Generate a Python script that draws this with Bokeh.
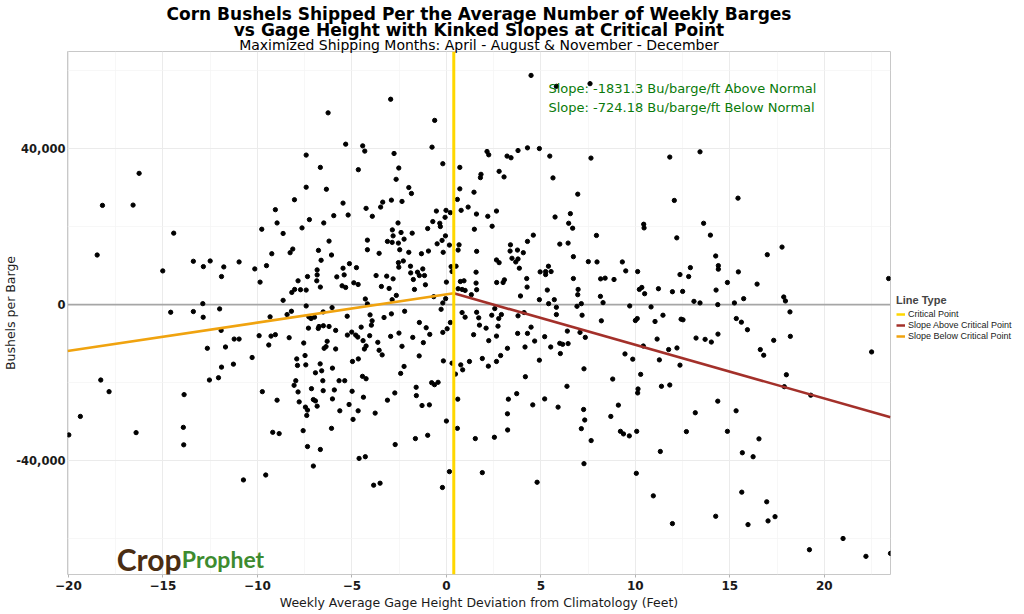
import math
from bokeh.plotting import figure
from bokeh.layouts import row
from bokeh.models import (Range1d, FixedTicker, NumeralTickFormatter, Span, Label,
                          Legend, LegendItem, Title)
from bokeh.embed import file_html
from bokeh.resources import INLINE

# ---------------- data ----------------
gage_dev = [
    -6.26, -7.42, -6.67, -16.26, -7.42, -6.35, -8.04, -18.2, -16.58, -9.05,
    -8.96, -7.25, -6.49, -5.96,
    4.48, 7.6, 5.82, -2.95, -0.62, -5.33, -4.43, -4.32, -0.76, -2.77,
    2.15, 2.24, 3.21, 3.42, 3.79, 4.29, 4.92, 5.47, 7.65, -0.19,
    -4.66, -2.52, 0.71, -2.66, 1.83, 1.8, 2.79, 3.05, 5.64, -1.99,
    -1.85, 0.71, 1.46, 6.95, -5.47, -2.91, -2.35, -3.37, 0.58, -3.48,
    -4.25, -5.2, -3.92, -0.53, -0.02, 0.21, 0.78, 1.15, -0.07, 1.59,
    2.19, 2.65, 5.75, 6.56, -2.56, -0.72, -0.35, 6.47,
    11.82, 13.42, 12.06, 15.43, 13.61, 10.44,
    -18.48, -14.43, -15.01, -13.39, -12.86, -12.5, -11.78, -11.9, -10.97, -10.14,
    -9.77, -8.64, -7.64, -9.86, -9.52, -9.24, -8.27, -8.13, -6.21, -6.77,
    -6.08, -6.63, -6.84, -6.84, -7.35, -6.86, -7.85, -8.03, -7.72, -7.42,
    -8.18, -6.67, -5.8, -8.64, -12.89, -14.59, -13.39, -12.87, -12.0, -11.92,
    -9.33, -8.43, -8.2, -7.42, -6.52, -6.05, -7.28, -7.16, -6.98, -7.3,
    -6.74, -6.78, -6.51, -6.21, -5.86, -9.91, -9.28, -9.05, -8.32, -11.23,
    -10.97, -11.69, -12.65, -9.4, -7.55, -6.31, -6.37, -6.47, -5.86, -10.28,
    -7.92, -7.48, -7.88, -7.44, -6.68, -6.6, -6.93, -6.03, -11.27, -11.9,
    -12.06, -12.54, -18.29, -17.85, -13.88, -9.74, -7.97, -8.06, -7.85, -7.14,
    -6.54, -6.52, -5.93, -5.68,
    -19.37, -19.98, -16.42, -13.92, -13.9, -8.96, -7.79, -7.46, -7.35, -7.39,
    -7.04, -6.93, -6.84, -6.03, -5.64, -9.19, -8.85, -7.58, -6.08, -7.35,
    -6.67, -7.04, -10.74, -9.56,
    -5.15, -4.94, -4.67, -4.39, -3.77, -3.12, -2.73, -1.59, -1.29, -0.9,
    -2.71, -1.64, -0.99, 0.0, 0.6, 0.58, -4.62, -4.29, -3.85, -3.51,
    -0.21, 0.16, 1.53, 1.9, 2.54, 3.24, 3.23, 3.28, 3.72, 4.57,
    5.2, 5.91, 4.8, 7.26, 7.32, 7.14, 7.66, 7.28, 8.7,
    10.12, 9.1, 9.21, 9.37, 9.68, 10.07, 10.05, 11.32, 10.95, 11.96,
    12.7, 13.17, 14.36, 14.25, 14.87, 15.33, 15.66, 16.23, 16.54, 15.63,
    15.96, 16.95, 17.02, 17.39, 19.28, 19.21, 20.99, 22.2, 23.5,
    10.46, 12.19, 13.97, 9.31, 9.49, 10.12, 8.87, 10.21, 10.34, 10.49,
    11.22, 11.96, 12.5, 12.36, 12.82, 12.91, 14.25, 14.39, 14.39, 14.27,
    14.87, 15.45, 15.73, 15.24, 13.1, 13.42, 16.44, 16.98, 17.76, 17.85,
    17.94, 18.18, 18.2, 23.4, 9.7, 10.83, 11.46, 10.0, 10.1, 11.04,
    12.42, 12.52, 14.36, 15.34, 15.61, 15.93, 14.37, 13.21, 13.69, 14.02,
    11.15, 10.42, 9.45, 9.86, 11.76, 12.2, 11.27, 12.36, 10.28, 8.8,
    10.14, 11.38, 11.82, 16.61, 16.79, 17.32, 17.99, 17.88, 22.5,
    -0.32, -2.86, -2.82, -2.4, -1.81, -0.99, -0.05, -0.49, -0.23, -4.18,
    -3.12, -2.87, -2.54, -2.24, -4.18, -3.56, -2.47, -1.99, -1.32, -0.95,
    -0.17, 0.16, 0.67, 0.62, 1.48, 2.42, 1.6, 3.39, 3.76, 3.37,
    4.07, 4.29, 4.6, 3.47, 3.67, 3.79, 3.86, 2.65, 2.79, 6.0,
    6.68, 6.44, 6.72, 7.94, 7.51, 7.97, 4.96, 5.25, 5.4, 5.54,
    5.25, 4.25, 4.27, 3.92, 4.92, 5.34, 5.71, 5.41, 5.82, 6.72,
    6.97, 6.95, 7.14, 6.91, 7.18, 5.82, 8.16, 8.4, 8.15, 8.29,
    8.2, 1.57, 1.57, 0.93, 0.74, 0.51, 0.25, 0.3, 0.0, 0.62,
    0.83, 0.99, 1.32, 1.6, 2.66, 3.0, 3.07, -0.67, -0.19, -0.04,
    -0.28, -5.47, -5.13, -5.41, -4.76, -5.52, -5.33, -4.9, -4.67, -3.72,
    -3.16, -2.82, -3.44, -3.03, -2.65, -2.52, -2.54, -2.28, -1.9, -1.89,
    -1.53, -1.25, -1.16, -1.43, -1.75, -1.69, -1.11, -4.29, -4.18, -2.87,
    -5.25, -4.04, -3.93, -3.97, -3.3, -2.91, -2.21, -1.43, -1.07, -0.88,
    -0.19, 0.04, 0.21, -5.01, -4.8, -4.69, -4.51, -4.41, -4.06, -5.24,
    -4.25, -4.34, -3.63, -3.56, -3.4, -2.95, -2.51, -1.78, -1.22, -2.35,
    -1.44, -2.24, -2.42, -4.66, -4.97, -4.44, -4.25, -5.38, -4.99, -1.6,
    -0.78, -0.63, -0.44, -0.16, 0.3, 0.48, 0.76, 0.86, 1.22, 1.9,
    2.22, 2.65, 2.87, 0.83, 0.99, 1.6, 1.71, 1.75, 1.44, 2.1,
    2.4, 2.56, 2.77, 2.73, 2.65, 2.24, 2.91, 3.23, 3.79, 4.11,
    3.77, 4.29, 4.48, 4.67, 4.16, 5.2, 5.52, 4.92, 6.0, 6.15,
    6.44, 6.03, 6.4, 7.07, 7.35, 7.28, 4.18, 6.38,
]

bushels = [
    49250, 38400, 35240, 33710, 30150, 29630, 26930, 25480, 25560, 24380,
    20970, 21830, 20970, 22850,
    58860, 56740, 56060, 52740, 47310, 41200, 40770, 39420, 40440, 38810,
    39320, 38470, 38140, 37710, 39570, 40260, 40080, 38140, 37630, 36180,
    34650, 35080, 35240, 32180, 33460, 32610, 34220, 32790, 32540, 30070,
    28540, 29730, 28870, 28360, 26070, 26830, 26500, 26320, 27010, 25050,
    24720, 23010, 22680, 24030, 24210, 23620, 24210, 25050, 22420, 23260,
    22680, 24030, 22500, 23360, 20970, 21330, 20890, 20890,
    37890, 39240, 26750, 27340, 20890, 20640,
    12740, 18350, 8660, 11130, 9760, 11210, 9680, 7210, 10960, 9170,
    19360, 18270, 19700, 5780, 10010, 13070, 13330, 14270, 16310, 13930,
    12740, 11390, 8920, 7640, 7210, 6120, 6120, 3900, 3820, 3740,
    3130, 4510, 7130, 1100, 250, -1960, -1780, -3240, -1100, -6620,
    -3130, -2550, -1700, -340, -1870, -760, -3130, -3570, -3230, -6040,
    -5610, -6120, -5430, -5610, -6620, -7980, -8080, -7720, -8490, -8840,
    -8840, -10880, -11210, -10370, -9860, -9430, -10780, -11210, -11390, -13580,
    -13940, -13070, -15620, -15470, -15210, -16990, -17500, -16310, -15290, -16050,
    -18780, -19360, -19360, -22350, -23110, -22350, -19540, -20720, -22420, -21580,
    -19540, -22090, -21910, -19540,
    -28710, -33460, -32870, -31520, -36000, -24540, -24970, -26320, -27090, -28460,
    -24380, -24720, -26070, -24210, -27260, -32790, -33120, -32360, -31770, -36440,
    -37200, -41450, -45020, -43750,
    -25650, -29470, -27260, -23780, -27860, -24540, -22680, -23360, -25910, -25740,
    -35930, -34400, -33550, -29890, -24280, -31770, -39490, -39060, -46370, -45860,
    -46960, -42880, -34400, -43140, -34060, -32190, -28030, -24280, -22860, -25740,
    -24210, -26320, -45610, -26930, -29630, -31850, -34910, -40840, -28710,
    -22680, -25810, -32540, -33200, -33710, -32540, -43320, -37710, -49100, -56230,
    -32610, -27770, -24790, -54350, -32540, -27260, -38040, -39060, -34470, -48160,
    -56490, -50630, -55540, -54450, -23260, -62940, -60060, -64640, -63880,
    19700, 17150, 17840, 10960, 8660, 8490, 6450, 3900, 4410, 2800,
    4080, 3310, 3390, 7720, 7210, 9500, 12490, 10010, 9100, 3740,
    5680, 8410, 1530, 430, 840, 430, 5270, 12820, 14780, 1960,
    940, -1870, -8150, 6700, -340, -590, -2720, -4080, -3570, -4330,
    -3740, -3900, 0, -3570, -4510, -6450, -7570, -8580, -8920, -9610,
    -8840, -10630, -12660, -14010, -11540, -11130, -14190, -15540, -17910, -19110,
    -21660, -20970, -20640, -11540, -12990, -9170, -18010, -21070, -12150,
    20050, 19190, 17660, 18520, 18350, 19540, 17660, 15620, 16490, 16560,
    16230, 15980, 15800, 16820, 14090, 13170, 14090, 13430, 13070, 13760,
    13430, 15290, 15360, 14010, 19360, 20130, 13680, 15360, 14010, 13760,
    13330, 16230, 17840, 11900, 10960, 11720, 9350, 11470, 10780, 15540,
    19620, 15800, 12310, 17760, 11040, 10960, 8410, 8490, 9860, 8490,
    7720, 6700, 4510, 2220, 1270, 3740, 1270, 250, -680, 6700,
    3900, 2550, 250, -430, -2720, -2550, 6620, 6800, 2120, 510,
    -4150, 8330, 5530, 6120, 5940, 9860, 9760, 8490, 5780, 4080,
    3900, 3650, 2550, 3820, 5680, 5680, 6370, 2040, 430, 1530,
    -1200, 9350, 10520, 7640, 9500, 4840, 4410, 5610, 5170, 7470,
    7310, 6620, 4660, 4150, 2370, 9610, 10780, 11210, 9860, 8150,
    8330, 9170, 7470, 7470, 6450, 3900, 5100, 1450, 180, 1270,
    -2980, -2630, -4150, -5270, -3310, -2370, -1700, -4590, -5940, -7640,
    -7130, -6200, -4590, -7050, -7820, -8330, -5780, -9250, -7980, -7820,
    -10630, -11390, -9680, -11720, -12910, -8150, -7310, -8410, -9760, -10700,
    -13170, -15870, -17660, -13940, -14600, -18420, -19030, -19540, -22250, -21220,
    -20050, -20560, -19950, -14450, -15030, -17840, -15470, -16740, -14600, -13840,
    -15800, -14600, -13070, -2040, -3230, -1960, -3390, -5270, -7720, -6040,
    -2720, -1020, -3570, -5530, -8080, -9250, -2550, -11210, -2880, -2040,
    -7390, -7390, -5780, -9350, -10880, -8230, -10880, -14270, -9940, -10190,
    -10010, -12560, -6800, -7130, -8410, -16480, -18520, -20970,
]
assert len(gage_dev) == len(bushels)

critical_x = 0.39          # critical gage deviation (ft)
kink_y = 2900              # fitted bushels/barge at the critical point
below_line_x = [-20.05, critical_x]
below_line_y = [-11900, kink_y]
above_line_x = [critical_x, 23.5]
above_line_y = [kink_y, -28900]

slope_labels = ["Slope: -1831.3 Bu/barge/ft Above Normal",
                "Slope: -724.18 Bu/barge/ft Below Normal"]
slope_label_y = [55550, 50700]
legend_labels = ["Critical Point", "Slope Above Critical Point",
                 "Slope Below Critical Point"]
x_ticks = [-20, -15, -10, -5, 0, 5, 10, 15, 20]
x_minor = [-17.5, -12.5, -7.5, -2.5, 2.5, 7.5, 12.5, 17.5, 22.5]
y_ticks = [-40000, 0, 40000]
y_minor = [-60000, -20000, 20000, 60000]

title_1 = "Corn Bushels Shipped Per the Average Number of Weekly Barges"
title_2 = "vs Gage Height with Kinked Slopes at Critical Point"
subtitle = "Maximized Shipping Months: April - August & November - December"
x_label = "Weekly Average Gage Height Deviation from Climatology (Feet)"
y_label = "Bushels per Barge"

GOLD = "#FFD700"
RED = "#A3302A"
ORANGE = "#F0A30F"

H = 612
MAIN_W = 895
LEG_W = 125

# ---------------- main figure ----------------
p = figure(width=MAIN_W, height=H, title=None,
           x_range=Range1d(-20.05, 23.5), y_range=Range1d(-69300, 65000),
           output_backend="svg", toolbar_location=None,
           min_border_left=67, min_border_right=5,
           min_border_top=51, min_border_bottom=34)
p.background_fill_color = "white"
p.border_fill_color = "white"
p.outline_line_color = "#C8C8C8"
p.outline_line_width = 1

# titles: added from the frame outward
for txt, size, style, so in [(subtitle, "14px", "normal", -3),
                             (title_2, "17px", "bold", -7),
                             (title_1, "17px", "bold", -4)]:
    p.add_layout(Title(text=txt, align="center", text_font="DejaVu Sans",
                       text_font_style=style, text_font_size=size,
                       text_color="black", standoff=so, offset=0), "above")

p.xaxis.ticker = FixedTicker(ticks=x_ticks, minor_ticks=x_minor)
p.yaxis.ticker = FixedTicker(ticks=y_ticks, minor_ticks=y_minor)
p.yaxis.formatter = NumeralTickFormatter(format="0,0")
for ax in p.axis:
    ax.axis_line_color = None
    ax.major_tick_in = 0
    ax.minor_tick_in = 0
    ax.minor_tick_out = 0
    ax.major_tick_line_color = "#B3B3B3"
    ax.minor_tick_line_color = None
    ax.major_label_text_font = "DejaVu Sans"
    ax.major_label_text_font_style = "bold"
    ax.major_label_text_color = "#1A1A1A"
    ax.axis_label_text_font = "DejaVu Sans"
    ax.axis_label_text_font_style = "normal"
    ax.axis_label_text_font_size = "12.5px"
    ax.axis_label_text_color = "#1A1A1A"

p.xaxis.axis_label = x_label
p.xaxis.major_tick_out = 3
p.xaxis.major_label_standoff = 3
p.xaxis.major_label_text_font_size = "12px"
p.xaxis.axis_label_standoff = 2

p.yaxis.axis_label = y_label
p.yaxis.major_tick_out = 0
p.yaxis.major_label_standoff = 2
p.yaxis.major_label_text_font_size = "11.5px"
p.yaxis.axis_label_standoff = -5

for g in (p.xgrid, p.ygrid):
    g.grid_line_color = "#EBEBEB"
    g.grid_line_width = 1
    g.minor_grid_line_color = "#F4F4F4"
    g.minor_grid_line_width = 0.7

zero = Span(location=0, dimension="width", line_color="#A6A6A6",
            line_width=1.6, level="underlay")
p.add_layout(zero)

p.scatter(gage_dev, bushels, size=4.3, color="black")

p.line(below_line_x, below_line_y, line_color=ORANGE, line_width=2.6)
p.line(above_line_x, above_line_y, line_color=RED, line_width=2.6)

crit_span = Span(location=critical_x, dimension="height", line_color=GOLD,
                 line_width=3)
p.add_layout(crit_span)

# slope annotations
for txt, yy in zip(slope_labels, slope_label_y):
    p.add_layout(Label(x=5.4, y=yy, text=txt, text_color="#0A7A0A",
                       text_font="DejaVu Sans", text_font_size="13px",
                       text_baseline="middle", text_align="left"))

# logo
p.add_layout(Label(x=-17.45, y=-65200, text="Crop", text_color="#4A2D12",
                   text_font="Lato", text_font_style="bold",
                   text_font_size="30px", text_baseline="middle"))
p.add_layout(Label(x=-14.0, y=-65200, text="Prophet", text_color="#3D8B2F",
                   text_font="Lato", text_font_style="bold",
                   text_font_size="23px", text_baseline="middle"))

# ---------------- legend panel ----------------
# The same series are drawn here on ranges that keep them out of view; they only
# feed the legend glyphs.
leg = figure(width=LEG_W, height=H, title=None,
             x_range=Range1d(1000, 1001), y_range=Range1d(1e6, 1e6 + 1),
             x_axis_type=None, y_axis_type=None,
             output_backend="svg", toolbar_location=None,
             min_border_left=0, min_border_right=0,
             min_border_top=0, min_border_bottom=0)
leg.outline_line_color = None
leg.grid.visible = False
leg.background_fill_color = "white"
leg.border_fill_color = "white"

g_crit = leg.vspan(x=[critical_x], line_color=GOLD, line_width=2.5)
g_above = leg.line(above_line_x, above_line_y, line_color=RED, line_width=2.5)
g_below = leg.line(below_line_x, below_line_y, line_color=ORANGE, line_width=2.5)

legend = Legend(items=[LegendItem(label=legend_labels[0], renderers=[g_crit]),
                       LegendItem(label=legend_labels[1], renderers=[g_above]),
                       LegendItem(label=legend_labels[2], renderers=[g_below])],
                location=(1, 233), title="Line Type",
                title_text_font="Liberation Sans", title_text_font_style="bold",
                title_text_font_size="11px", title_standoff=2,
                label_text_font="Liberation Sans", label_text_font_size="9px",
                label_text_color="#222222",
                glyph_width=9, glyph_height=10, label_height=11,
                label_standoff=3, spacing=0, padding=2, margin=0,
                border_line_color=None, background_fill_alpha=0)
leg.add_layout(legend)

page = row(p, leg, spacing=0)
open("out.html", "w").write(file_html(page, INLINE))
